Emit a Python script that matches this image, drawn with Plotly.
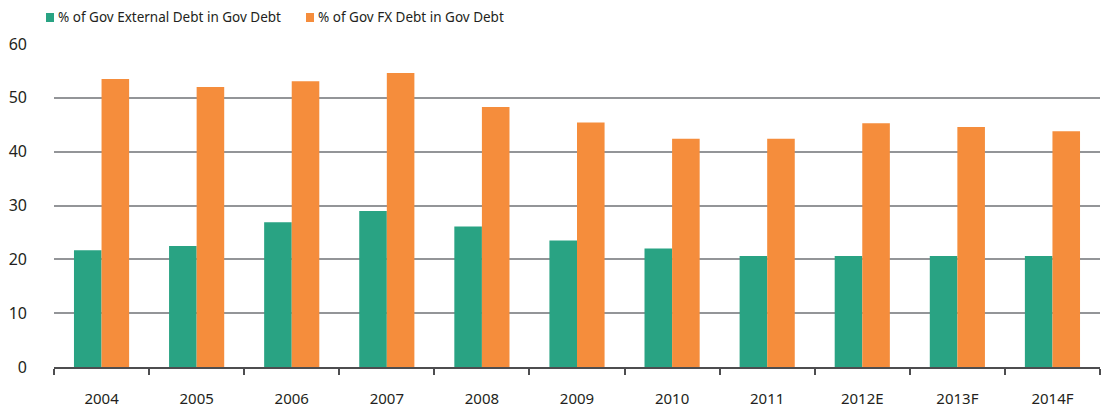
import plotly.graph_objects as go

years = ["2004", "2005", "2006", "2007", "2008", "2009", "2010", "2011", "2012E", "2013F", "2014F"]
external = [21.7, 22.5, 26.9, 29.0, 26.1, 23.5, 22.0, 20.6, 20.6, 20.6, 20.6]
fx = [53.5, 52.0, 53.1, 54.6, 48.3, 45.4, 42.4, 42.4, 45.3, 44.6, 43.8]
names = ["% of Gov External Debt in Gov Debt", "% of Gov FX Debt in Gov Debt"]
colors = ["#29A383", "#F58D3C"]

W, H = 1106, 410
L, R, T, B = 54, 6, 44, 43
pw, ph = W - L - R, H - T - B

def px(x):
    return (x - L) / pw

def py(y):
    return (H - B - y) / ph

fig = go.Figure()
for vals, name, col in zip([external, fx], names, colors):
    fig.add_trace(go.Bar(x=years, y=vals, name=name, marker_color=col,
                         marker_line_width=0, showlegend=False))

font = "Noto Sans, Open Sans, sans-serif"
legend_pos = [(46, 57), (306, 317)]
shapes = []
annotations = []
for (sx, tx), name, col in zip(legend_pos, names, colors):
    shapes.append(dict(type="rect", xref="paper", yref="paper",
                       x0=px(sx), x1=px(sx + 8), y0=py(22), y1=py(13),
                       fillcolor=col, line_width=0))
    annotations.append(dict(text=name, xref="paper", yref="paper",
                            x=px(tx - 1), y=py(17.5), xanchor="left", yanchor="middle",
                            showarrow=False, font=dict(size=13.5, color="#231F20", family=font)))

fig.update_layout(
    width=W, height=H,
    margin=dict(l=L, r=R, t=T, b=B, autoexpand=False),
    paper_bgcolor="white", plot_bgcolor="white",
    barmode="group", bargap=0.42, bargroupgap=0,
    shapes=shapes, annotations=annotations,
    font=dict(family=font, size=14, color="#231F20"),
    xaxis=dict(type="category", automargin=False, showgrid=False, showline=True,
               linecolor="#4D4D4F", linewidth=2, ticks="outside", tickson="boundaries",
               ticklen=6, tickcolor="#4D4D4F", tickwidth=2, ticklabelstandoff=17,
               tickfont=dict(size=15, color="#231F20")),
    yaxis=dict(automargin=False, range=[0, 60], dtick=10, showgrid=True,
               gridcolor="#939598", gridwidth=2, zeroline=False, showline=False,
               ticks="", ticklabelstandoff=26, tickfont=dict(size=16, color="#231F20")),
)

fig.write_html("out.html")
